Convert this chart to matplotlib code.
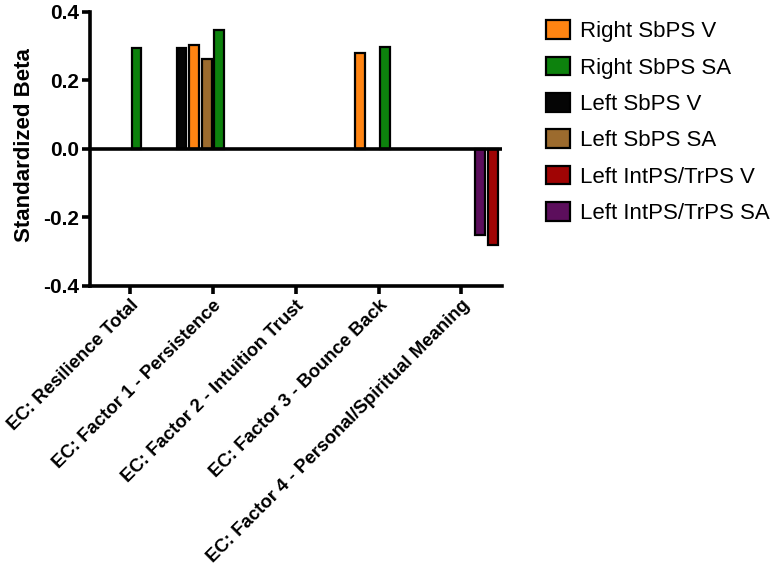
import matplotlib
matplotlib.use("Agg")
import matplotlib.pyplot as plt
import numpy as np

plt.rcParams['font.family'] = ['Liberation Sans', 'DejaVu Sans']

categories = ["EC: Resilience Total", "EC: Factor 1 - Persistence",
              "EC: Factor 2 - Intuition Trust", "EC: Factor 3 - Bounce Back",
              "EC: Factor 4 - Personal/Spiritual Meaning"]

# series values (NaN = no bar)
left_sbps_v = [np.nan, 0.293, np.nan, np.nan, np.nan]
right_sbps_v = [np.nan, 0.302, np.nan, 0.279, np.nan]
left_sbps_sa = [np.nan, 0.261, np.nan, np.nan, np.nan]
right_sbps_sa = [0.293, 0.346, np.nan, 0.296, np.nan]
left_int_sa = [np.nan, np.nan, np.nan, np.nan, -0.252]
left_int_v = [np.nan, np.nan, np.nan, np.nan, -0.280]

# drawing order (slot order within group)
series = [
    ("Left SbPS V", left_sbps_v, "#050505"),
    ("Right SbPS V", right_sbps_v, "#FF8412"),
    ("Left SbPS SA", left_sbps_sa, "#9C6B2E"),
    ("Right SbPS SA", right_sbps_sa, "#0D820D"),
    ("Left IntPS/TrPS SA", left_int_sa, "#5C0E5C"),
    ("Left IntPS/TrPS V", left_int_v, "#A00404"),
]
legend_order = ["Right SbPS V", "Right SbPS SA", "Left SbPS V",
                "Left SbPS SA", "Left IntPS/TrPS V", "Left IntPS/TrPS SA"]

fig = plt.figure(figsize=(7.73, 5.66), dpi=100)
ax = fig.add_axes([90/773, 1-285.7/566, (502-90)/773, (285.7-11.7)/566])

x = np.arange(len(categories))
slot = 0.152
width = 0.118
handles = {}
for i, (name, vals, col) in enumerate(series):
    off = (i - 2.5) * slot
    b = ax.bar(x + off, vals, width=width, color=col, edgecolor="black",
               linewidth=1.6, label=name, zorder=3)
    handles[name] = b

ax.axhline(0, color="black", linewidth=2.6, zorder=4)
ax.set_xlim(-0.485, 4.49)
ax.set_ylim(-0.4, 0.4)
ax.set_yticks([-0.4, -0.2, 0.0, 0.2, 0.4])
ax.set_yticklabels(["-0.4", "-0.2", "0.0", "0.2", "0.4"], fontsize=15, fontweight="bold")
ax.set_xticks(x)
ax.set_xticklabels(categories, rotation=45, ha="right", va="top",
                   rotation_mode="anchor", fontsize=13.4, fontweight="bold")
for s in ["top", "right"]:
    ax.spines[s].set_visible(False)
for s in ["left", "bottom"]:
    ax.spines[s].set_linewidth(2.6)
ax.tick_params(axis="both", width=2.6, length=6, pad=2)
ax.set_ylabel("Standardized Beta", fontsize=16, fontweight="bold")
ax.yaxis.set_label_coords(-0.134, 0.513)

leg = fig.legend([handles[n] for n in legend_order], legend_order,
                 loc="upper left", bbox_to_anchor=(537/773, 1-11.5/566),
                 frameon=False, fontsize=16, handlelength=1.1, handleheight=0.9,
                 labelspacing=0.65, handletextpad=0.45, borderaxespad=0)

fig.savefig("out.png", dpi=100)
